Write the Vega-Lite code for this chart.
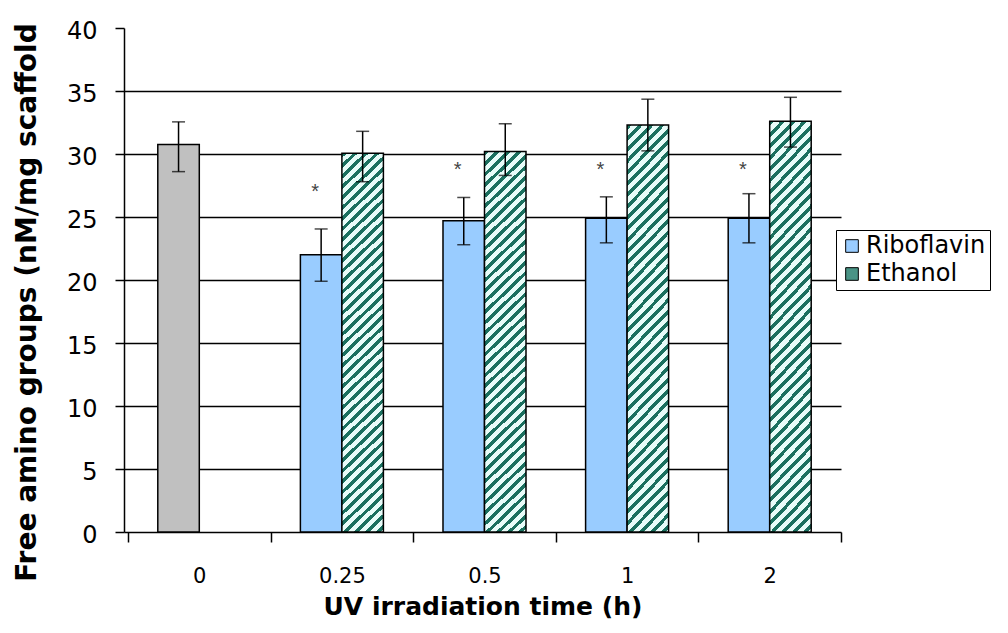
{
  "$schema": "https://vega.github.io/schema/vega-lite/v6.json",
  "autosize": {"type": "none"},
  "padding": {"left": 124, "top": 28, "right": 167, "bottom": 101},
  "width": 717,
  "height": 504,
  "background": "white",
  "config": {
    "font": "DejaVu Sans",
    "view": {"stroke": null},
    "axis": {"labelColor": "black", "titleColor": "black", "domainColor": "black", "tickColor": "black", "domainWidth": 1.5, "tickWidth": 1.5, "labelFont": "DejaVu Sans", "titleFont": "DejaVu Sans"}
  },
  "data": {
    "values": [
      {"time": "0", "slot": "Riboflavin", "treatment": "Control", "value": 30.75, "lo": 28.6, "hi": 32.55},
      {"time": "0.25", "slot": "Riboflavin", "treatment": "Riboflavin", "value": 22.0, "lo": 19.9, "hi": 24.05, "star": 26.95},
      {"time": "0.25", "slot": "Ethanol", "treatment": "Ethanol", "value": 30.05, "lo": 27.8, "hi": 31.8},
      {"time": "0.5", "slot": "Riboflavin", "treatment": "Riboflavin", "value": 24.7, "lo": 22.8, "hi": 26.55, "star": 28.75},
      {"time": "0.5", "slot": "Ethanol", "treatment": "Ethanol", "value": 30.2, "lo": 28.3, "hi": 32.4},
      {"time": "1", "slot": "Riboflavin", "treatment": "Riboflavin", "value": 24.9, "lo": 22.95, "hi": 26.6, "star": 28.75},
      {"time": "1", "slot": "Ethanol", "treatment": "Ethanol", "value": 32.3, "lo": 30.25, "hi": 34.35},
      {"time": "2", "slot": "Riboflavin", "treatment": "Riboflavin", "value": 24.9, "lo": 22.95, "hi": 26.85, "star": 28.75},
      {"time": "2", "slot": "Ethanol", "treatment": "Ethanol", "value": 32.6, "lo": 30.55, "hi": 34.5}
    ]
  },
  "encoding": {
    "x": {
      "field": "time", "type": "nominal", "sort": ["0", "0.25", "0.5", "1", "2"],
      "scale": {"domain": ["0", "0.25", "0.5", "1", "2"], "paddingInner": 0, "paddingOuter": 0.014, "align": 1},
      "axis": {"title": "UV irradiation time (h)", "titleFontSize": 25, "titleFontWeight": "bold", "titlePadding": 8, "labelFontSize": 21, "labelAngle": 0, "labelPadding": 23, "tickSize": 10, "tickBand": "extent", "grid": false}
    },
    "xOffset": {
      "field": "slot", "type": "nominal",
      "scale": {"domain": ["Riboflavin", "Ethanol"], "paddingInner": 0, "paddingOuter": 0.718}
    }
  },
  "layer": [
    {
      "transform": [{"filter": "datum.treatment !== 'Ethanol'"}],
      "mark": {"type": "bar", "stroke": "black", "strokeWidth": 1.5, "opacity": 1},
      "encoding": {
        "y": {
          "field": "value", "type": "quantitative",
          "scale": {"domain": [0, 40], "nice": false, "zero": true},
          "axis": {
            "title": "Free amino groups (nM/mg scaffold",
            "titleFontSize": 28, "titleFontWeight": "bold", "titleAngle": -90,
            "titleX": -97, "titleY": 274, "titleAlign": "center", "titleBaseline": "middle",
            "values": [0, 5, 10, 15, 20, 25, 30, 35, 40],
            "labelFontSize": 24, "labelPadding": 18, "labelOffset": 3, "tickSize": 9,
            "grid": true, "gridWidth": 1.4,
            "gridColor": {"condition": {"test": "datum.value === 40 || datum.value === 0", "value": "transparent"}, "value": "black"}
          }
        },
        "color": {
          "field": "treatment", "type": "nominal",
          "scale": {"domain": ["Riboflavin", "Ethanol", "Control"], "range": ["#99ccff", "#4a9486", "#c0c0c0"]},
          "legend": {
            "title": null, "orient": "none", "legendX": 712, "legendY": 202,
            "values": ["Riboflavin", "Ethanol"],
            "strokeColor": "black", "fillColor": "white", "padding": 4,
            "symbolType": "square", "symbolSize": 160, "symbolStrokeColor": "black", "symbolStrokeWidth": 1,
            "labelFontSize": 24, "labelColor": "black", "labelFont": "DejaVu Sans", "labelOffset": 2, "rowPadding": 4
          }
        }
      }
    },
    {
      "transform": [{"filter": "datum.treatment === 'Ethanol'"}],
      "mark": {
        "type": "bar", "stroke": "black", "strokeWidth": 1.5,
        "fill": {
          "gradient": "linear", "x1": 0, "y1": 0, "x2": 0.1155, "y2": 1.1,
          "stops": [
            {"offset": 0, "color": "#1b705f"}, {"offset": 0.011, "color": "#1b705f"}, {"offset": 0.011, "color": "#e8fcf9"}, {"offset": 0.025, "color": "#e8fcf9"},
            {"offset": 0.025, "color": "#1b705f"}, {"offset": 0.036, "color": "#1b705f"}, {"offset": 0.036, "color": "#e8fcf9"}, {"offset": 0.05, "color": "#e8fcf9"},
            {"offset": 0.05, "color": "#1b705f"}, {"offset": 0.061, "color": "#1b705f"}, {"offset": 0.061, "color": "#e8fcf9"}, {"offset": 0.075, "color": "#e8fcf9"},
            {"offset": 0.075, "color": "#1b705f"}, {"offset": 0.086, "color": "#1b705f"}, {"offset": 0.086, "color": "#e8fcf9"}, {"offset": 0.1, "color": "#e8fcf9"},
            {"offset": 0.1, "color": "#1b705f"}, {"offset": 0.111, "color": "#1b705f"}, {"offset": 0.111, "color": "#e8fcf9"}, {"offset": 0.125, "color": "#e8fcf9"},
            {"offset": 0.125, "color": "#1b705f"}, {"offset": 0.136, "color": "#1b705f"}, {"offset": 0.136, "color": "#e8fcf9"}, {"offset": 0.15, "color": "#e8fcf9"},
            {"offset": 0.15, "color": "#1b705f"}, {"offset": 0.161, "color": "#1b705f"}, {"offset": 0.161, "color": "#e8fcf9"}, {"offset": 0.175, "color": "#e8fcf9"},
            {"offset": 0.175, "color": "#1b705f"}, {"offset": 0.186, "color": "#1b705f"}, {"offset": 0.186, "color": "#e8fcf9"}, {"offset": 0.2, "color": "#e8fcf9"},
            {"offset": 0.2, "color": "#1b705f"}, {"offset": 0.211, "color": "#1b705f"}, {"offset": 0.211, "color": "#e8fcf9"}, {"offset": 0.225, "color": "#e8fcf9"},
            {"offset": 0.225, "color": "#1b705f"}, {"offset": 0.236, "color": "#1b705f"}, {"offset": 0.236, "color": "#e8fcf9"}, {"offset": 0.25, "color": "#e8fcf9"},
            {"offset": 0.25, "color": "#1b705f"}, {"offset": 0.261, "color": "#1b705f"}, {"offset": 0.261, "color": "#e8fcf9"}, {"offset": 0.275, "color": "#e8fcf9"},
            {"offset": 0.275, "color": "#1b705f"}, {"offset": 0.286, "color": "#1b705f"}, {"offset": 0.286, "color": "#e8fcf9"}, {"offset": 0.3, "color": "#e8fcf9"},
            {"offset": 0.3, "color": "#1b705f"}, {"offset": 0.311, "color": "#1b705f"}, {"offset": 0.311, "color": "#e8fcf9"}, {"offset": 0.325, "color": "#e8fcf9"},
            {"offset": 0.325, "color": "#1b705f"}, {"offset": 0.336, "color": "#1b705f"}, {"offset": 0.336, "color": "#e8fcf9"}, {"offset": 0.35, "color": "#e8fcf9"},
            {"offset": 0.35, "color": "#1b705f"}, {"offset": 0.361, "color": "#1b705f"}, {"offset": 0.361, "color": "#e8fcf9"}, {"offset": 0.375, "color": "#e8fcf9"},
            {"offset": 0.375, "color": "#1b705f"}, {"offset": 0.386, "color": "#1b705f"}, {"offset": 0.386, "color": "#e8fcf9"}, {"offset": 0.4, "color": "#e8fcf9"},
            {"offset": 0.4, "color": "#1b705f"}, {"offset": 0.411, "color": "#1b705f"}, {"offset": 0.411, "color": "#e8fcf9"}, {"offset": 0.425, "color": "#e8fcf9"},
            {"offset": 0.425, "color": "#1b705f"}, {"offset": 0.436, "color": "#1b705f"}, {"offset": 0.436, "color": "#e8fcf9"}, {"offset": 0.45, "color": "#e8fcf9"},
            {"offset": 0.45, "color": "#1b705f"}, {"offset": 0.461, "color": "#1b705f"}, {"offset": 0.461, "color": "#e8fcf9"}, {"offset": 0.475, "color": "#e8fcf9"},
            {"offset": 0.475, "color": "#1b705f"}, {"offset": 0.486, "color": "#1b705f"}, {"offset": 0.486, "color": "#e8fcf9"}, {"offset": 0.5, "color": "#e8fcf9"},
            {"offset": 0.5, "color": "#1b705f"}, {"offset": 0.511, "color": "#1b705f"}, {"offset": 0.511, "color": "#e8fcf9"}, {"offset": 0.525, "color": "#e8fcf9"},
            {"offset": 0.525, "color": "#1b705f"}, {"offset": 0.536, "color": "#1b705f"}, {"offset": 0.536, "color": "#e8fcf9"}, {"offset": 0.55, "color": "#e8fcf9"},
            {"offset": 0.55, "color": "#1b705f"}, {"offset": 0.561, "color": "#1b705f"}, {"offset": 0.561, "color": "#e8fcf9"}, {"offset": 0.575, "color": "#e8fcf9"},
            {"offset": 0.575, "color": "#1b705f"}, {"offset": 0.586, "color": "#1b705f"}, {"offset": 0.586, "color": "#e8fcf9"}, {"offset": 0.6, "color": "#e8fcf9"},
            {"offset": 0.6, "color": "#1b705f"}, {"offset": 0.611, "color": "#1b705f"}, {"offset": 0.611, "color": "#e8fcf9"}, {"offset": 0.625, "color": "#e8fcf9"},
            {"offset": 0.625, "color": "#1b705f"}, {"offset": 0.636, "color": "#1b705f"}, {"offset": 0.636, "color": "#e8fcf9"}, {"offset": 0.65, "color": "#e8fcf9"},
            {"offset": 0.65, "color": "#1b705f"}, {"offset": 0.661, "color": "#1b705f"}, {"offset": 0.661, "color": "#e8fcf9"}, {"offset": 0.675, "color": "#e8fcf9"},
            {"offset": 0.675, "color": "#1b705f"}, {"offset": 0.686, "color": "#1b705f"}, {"offset": 0.686, "color": "#e8fcf9"}, {"offset": 0.7, "color": "#e8fcf9"},
            {"offset": 0.7, "color": "#1b705f"}, {"offset": 0.711, "color": "#1b705f"}, {"offset": 0.711, "color": "#e8fcf9"}, {"offset": 0.725, "color": "#e8fcf9"},
            {"offset": 0.725, "color": "#1b705f"}, {"offset": 0.736, "color": "#1b705f"}, {"offset": 0.736, "color": "#e8fcf9"}, {"offset": 0.75, "color": "#e8fcf9"},
            {"offset": 0.75, "color": "#1b705f"}, {"offset": 0.761, "color": "#1b705f"}, {"offset": 0.761, "color": "#e8fcf9"}, {"offset": 0.775, "color": "#e8fcf9"},
            {"offset": 0.775, "color": "#1b705f"}, {"offset": 0.786, "color": "#1b705f"}, {"offset": 0.786, "color": "#e8fcf9"}, {"offset": 0.8, "color": "#e8fcf9"},
            {"offset": 0.8, "color": "#1b705f"}, {"offset": 0.811, "color": "#1b705f"}, {"offset": 0.811, "color": "#e8fcf9"}, {"offset": 0.825, "color": "#e8fcf9"},
            {"offset": 0.825, "color": "#1b705f"}, {"offset": 0.836, "color": "#1b705f"}, {"offset": 0.836, "color": "#e8fcf9"}, {"offset": 0.85, "color": "#e8fcf9"},
            {"offset": 0.85, "color": "#1b705f"}, {"offset": 0.861, "color": "#1b705f"}, {"offset": 0.861, "color": "#e8fcf9"}, {"offset": 0.875, "color": "#e8fcf9"},
            {"offset": 0.875, "color": "#1b705f"}, {"offset": 0.886, "color": "#1b705f"}, {"offset": 0.886, "color": "#e8fcf9"}, {"offset": 0.9, "color": "#e8fcf9"},
            {"offset": 0.9, "color": "#1b705f"}, {"offset": 0.911, "color": "#1b705f"}, {"offset": 0.911, "color": "#e8fcf9"}, {"offset": 0.925, "color": "#e8fcf9"},
            {"offset": 0.925, "color": "#1b705f"}, {"offset": 0.936, "color": "#1b705f"}, {"offset": 0.936, "color": "#e8fcf9"}, {"offset": 0.95, "color": "#e8fcf9"},
            {"offset": 0.95, "color": "#1b705f"}, {"offset": 0.961, "color": "#1b705f"}, {"offset": 0.961, "color": "#e8fcf9"}, {"offset": 0.975, "color": "#e8fcf9"},
            {"offset": 0.975, "color": "#1b705f"}, {"offset": 0.986, "color": "#1b705f"}, {"offset": 0.986, "color": "#e8fcf9"}, {"offset": 1, "color": "#e8fcf9"}
          ]
        }
      },
      "encoding": {
        "y": {"field": "value", "type": "quantitative"}
      }
    },
    {
      "mark": {"type": "rule", "color": "black", "strokeWidth": 1.5},
      "encoding": {
        "y": {"field": "lo", "type": "quantitative"},
        "y2": {"field": "hi"}
      }
    },
    {
      "mark": {"type": "tick", "color": "black", "thickness": 1.5, "size": 13, "orient": "horizontal"},
      "encoding": {
        "y": {"field": "lo", "type": "quantitative"}
      }
    },
    {
      "mark": {"type": "tick", "color": "black", "thickness": 1.5, "size": 13, "orient": "horizontal"},
      "encoding": {
        "y": {"field": "hi", "type": "quantitative"}
      }
    },
    {
      "transform": [{"filter": "isValid(datum.star)"}],
      "mark": {"type": "text", "text": "*", "fontSize": 20, "font": "Liberation Sans", "color": "#444444", "dx": -6, "baseline": "middle", "align": "center"},
      "encoding": {
        "y": {"field": "star", "type": "quantitative"}
      }
    }
  ]
}
